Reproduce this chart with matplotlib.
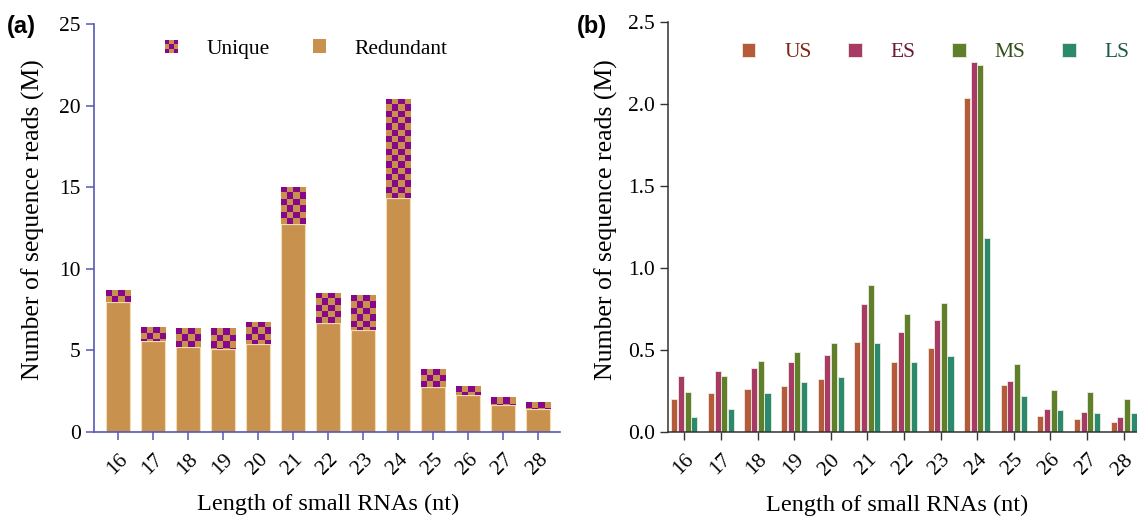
import numpy as np
import matplotlib
matplotlib.use("Agg")
import matplotlib.pyplot as plt
from matplotlib.patches import Rectangle
from matplotlib.legend_handler import HandlerBase
from matplotlib.colors import ListedColormap

# ---------------- data ----------------
lengths = ["16", "17", "18", "19", "20", "21", "22", "23", "24", "25", "26", "27", "28"]
redundant = [7.95, 5.57, 5.20, 5.12, 5.37, 12.76, 6.66, 6.27, 14.35, 2.77, 2.26, 1.68, 1.44]
total_a = [8.69, 6.45, 6.35, 6.35, 6.76, 15.05, 8.54, 8.38, 20.43, 3.89, 2.81, 2.15, 1.87]
unique = [t - r for t, r in zip(total_a, redundant)]

stages = ["US", "ES", "MS", "LS"]
us = [0.203, 0.238, 0.264, 0.284, 0.323, 0.549, 0.427, 0.514, 2.04, 0.287, 0.098, 0.081, 0.065]
es = [0.341, 0.374, 0.394, 0.427, 0.470, 0.781, 0.610, 0.685, 2.26, 0.313, 0.144, 0.122, 0.091]
ms = [0.248, 0.343, 0.437, 0.490, 0.545, 0.898, 0.721, 0.790, 2.24, 0.415, 0.260, 0.244, 0.205]
ls = [0.091, 0.142, 0.242, 0.307, 0.339, 0.543, 0.427, 0.465, 1.187, 0.221, 0.134, 0.118, 0.118]

# ---------------- style ----------------
TAN = "#C8924E"
PURPLE = "#87078A"
EDGE_A = "#F2DDB0"
BLUE = "#5558B8"
stage_colors = ["#B55B3B", "#A83A66", "#5F7F2A", "#2B8A6D"]
stage_text = ["#7E2410", "#6E1838", "#33501A", "#1C5A44"]
SERIF = "Liberation Serif"

plt.rcParams["font.family"] = [SERIF, "DejaVu Serif"]

W, H = 1137, 517
fig = plt.figure(figsize=(W / 100, H / 100), dpi=100)

axa = fig.add_axes([94 / W, (H - 432) / H, (560 - 94) / W, (432 - 24.3) / H])
axb = fig.add_axes([668.3 / W, (H - 432.3) / H, (1140 - 668.3) / W, (432.3 - 22.3) / H])

x = np.arange(len(lengths))

# ---------------- panel (a) ----------------
bw = 0.71
axa.bar(x, redundant, width=bw, color=TAN, edgecolor=EDGE_A, linewidth=0.8, zorder=2)
ubars = axa.bar(x, unique, bottom=redundant, width=bw, color=TAN, edgecolor=EDGE_A,
                linewidth=0.8, zorder=2)

cmap = ListedColormap([PURPLE, TAN])
sq_y = 0.385  # checker square height (data units)
for p in ubars.patches:
    x0, y0 = p.get_x(), p.get_y()
    w, h = p.get_width(), p.get_height()
    top = y0 + h
    ncol = 4
    nrow = int(np.ceil(h / sq_y)) + 1
    arr = np.add.outer(np.arange(nrow), np.arange(ncol)) % 2
    im = axa.imshow(arr, cmap=cmap, interpolation="nearest", origin="upper",
                    extent=(x0, x0 + w, top - nrow * sq_y, top), aspect="auto", zorder=3)
    im.set_clip_path(p)

axa.set_xlim(-0.686, 12.63)
axa.set_ylim(0, 25)
axa.set_aspect("auto")
axa.set_yticks([0, 5, 10, 15, 20, 25])
axa.set_xticks(x)
axa.set_xticklabels(lengths)
for s in ["top", "right"]:
    axa.spines[s].set_visible(False)
for s in ["left", "bottom"]:
    axa.spines[s].set_color(BLUE)
    axa.spines[s].set_linewidth(1.2)
axa.tick_params(axis="both", colors=BLUE, labelcolor="black", length=6, width=1.1,
                labelsize=15.5)
axa.tick_params(axis="x", pad=7)
for lab in axa.get_xticklabels():
    lab.set_rotation(45)
    lab.set_ha("right")
    lab.set_va("top")
    lab.set_rotation_mode("anchor")
axa.set_ylabel("Number of sequence reads (M)", fontsize=18.5)
axa.set_xlabel("Length of small RNAs (nt)", fontsize=17.5)
axa.yaxis.set_label_coords(-0.105, 0.52)
axa.xaxis.set_label_coords(0.503, -0.152)


class CheckerHandler(HandlerBase):
    def create_artists(self, legend, orig_handle, xdescent, ydescent, width, height,
                       fontsize, trans):
        size = min(width, height)
        x0 = -xdescent + (width - size) / 2
        y0 = -ydescent + (height - size) / 2
        n = 3
        s = size / n
        arts = []
        for r in range(n):
            for c in range(n):
                col = PURPLE if (r + c) % 2 == 0 else TAN
                arts.append(Rectangle((x0 + c * s, y0 + r * s), s, s, facecolor=col,
                                      edgecolor="none", transform=trans))
        return arts


h_unique = Rectangle((0, 0), 1, 1, facecolor=PURPLE)
h_red = Rectangle((0, 0), 1, 1, facecolor=TAN, edgecolor="none")
axa.legend([h_unique, h_red], ["Unique", "Redundant"], loc="center",
           bbox_to_anchor=(0.455, 0.939), ncol=2, frameon=False, fontsize=15.5,
           handlelength=0.62, handleheight=0.62, handletextpad=1.3, columnspacing=2.0,
           handler_map={h_unique: CheckerHandler()})

fig.text(7 / W, 1 - 33 / H, "(a)", fontsize=17, fontweight="bold",
         family=["Liberation Sans", "DejaVu Sans"], va="baseline")

# ---------------- panel (b) ----------------
pitch = 0.182
bwb = 0.165
series = [us, es, ms, ls]
for i, (vals, col) in enumerate(zip(series, stage_colors)):
    axb.bar(x + (i - 1.5) * pitch, vals, width=bwb, color=col, edgecolor="#EDEDE0",
            linewidth=0.6, label=stages[i], zorder=2)

axb.set_xlim(-0.437, 12.45)
axb.set_ylim(0, 2.5)
axb.set_yticks([0.0, 0.5, 1.0, 1.5, 2.0, 2.5])
axb.set_yticklabels(["0.0", "0.5", "1.0", "1.5", "2.0", "2.5"])
axb.set_xticks(x)
axb.set_xticklabels(lengths)
for s in ["top", "right"]:
    axb.spines[s].set_visible(False)
for s in ["left", "bottom"]:
    axb.spines[s].set_color("#333333")
    axb.spines[s].set_linewidth(1.1)
axb.tick_params(axis="both", colors="#333333", labelcolor="black", length=6, width=1.0,
                labelsize=15.5)
axb.tick_params(axis="x", pad=7)
for lab in axb.get_xticklabels():
    lab.set_rotation(45)
    lab.set_ha("right")
    lab.set_va("top")
    lab.set_rotation_mode("anchor")
axb.set_ylabel("Number of sequence reads (M)", fontsize=18.5)
axb.set_xlabel("Length of small RNAs (nt)", fontsize=17.5)
axb.yaxis.set_label_coords(-0.107, 0.518)
axb.xaxis.set_label_coords(0.485, -0.152)

axb.legend(loc="center", bbox_to_anchor=(0.567, 0.926), ncol=4, frameon=False,
           fontsize=15.5, handlelength=0.62, handleheight=0.62, handletextpad=1.35,
           columnspacing=1.7, labelcolor=stage_text)

fig.text(577 / W, 1 - 33 / H, "(b)", fontsize=17, fontweight="bold",
         family=["Liberation Sans", "DejaVu Sans"], va="baseline")

fig.savefig("out.png", dpi=100)
